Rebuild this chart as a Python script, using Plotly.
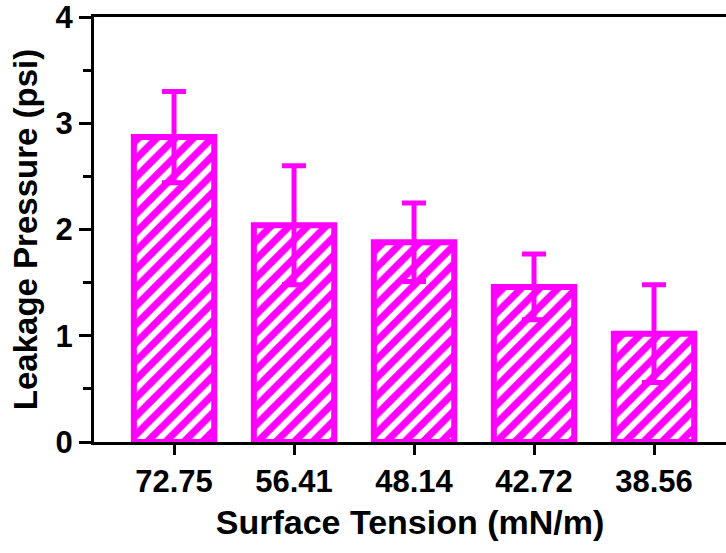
import plotly.graph_objects as go

categories = ["72.75", "56.41", "48.14", "42.72", "38.56"]
leakage_pressure = [2.87, 2.04, 1.88, 1.46, 1.02]
error_sd = [0.43, 0.56, 0.37, 0.31, 0.46]

magenta = "#FF00FF"
font_family = "Liberation Sans, Arial, sans-serif"

fig = go.Figure()
fig.add_trace(go.Bar(
    x=list(range(len(categories))),
    y=leakage_pressure,
    width=0.67,
    marker=dict(
        color="white",
        line=dict(color=magenta, width=6),
        pattern=dict(shape="/", fgcolor=magenta, bgcolor="white", size=13,
                     solidity=0.55, fgopacity=1),
    ),
    error_y=dict(type="data", array=error_sd, visible=True, color=magenta, thickness=5, width=12),
))

fig.update_layout(
    width=726, height=553,
    margin=dict(l=94, r=0, t=17, b=111),
    paper_bgcolor="white", plot_bgcolor="white",
    showlegend=False,
    font=dict(family=font_family, color="black"),
    xaxis=dict(
        range=[-0.667, 4.6],
        tickmode="array",
        tickvals=list(range(len(categories))),
        ticktext=categories,
        ticks="outside", ticklen=10, tickwidth=3, tickcolor="black",
        showline=True, linewidth=3, linecolor="black", mirror=True,
        showgrid=False, zeroline=False, automargin=False,
        ticklabeloverflow="allow",
        tickfont=dict(size=31, family=font_family, weight="bold"),
        title=dict(text="<b>Surface Tension (mN/m)</b>", font=dict(size=34, family=font_family), standoff=12),
    ),
    yaxis=dict(
        range=[0, 4],
        tickmode="linear", tick0=0, dtick=1,
        ticks="outside", ticklen=12, tickwidth=3, tickcolor="black",
        minor=dict(dtick=0.5, ticks="outside", ticklen=8, tickwidth=3, tickcolor="black", showgrid=False),
        showline=True, linewidth=3, linecolor="black",
        showgrid=False, zeroline=False, automargin=False,
        ticklabeloverflow="allow",
        tickfont=dict(size=31, family=font_family, weight="bold"),
        title=dict(text="<b>Leakage Pressure (psi)</b>", font=dict(size=33, family=font_family), standoff=8),
    ),
)

fig.write_html("out.html", config={"displayModeBar": False},
               post_script="document.body.style.margin='0';")
